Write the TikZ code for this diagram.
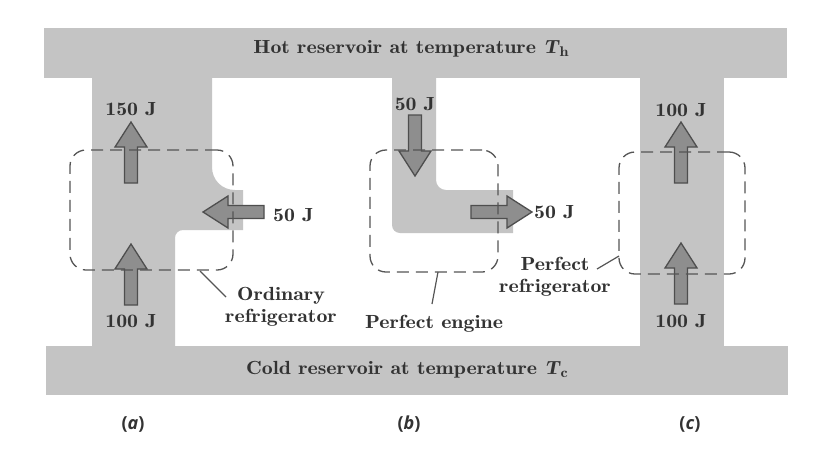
\documentclass[tikz,border=0pt]{standalone}
\usepackage{fontspec}
\setmainfont{lmromandemi10-regular.otf}[FakeStretch=1.15, ItalicFont=lmromandemi10-oblique.otf, BoldFont=lmroman10-bold.otf]
\newfontfamily\labfont{Open Sans}
\definecolor{resfill}{HTML}{C4C4C4}
\definecolor{arrfill}{HTML}{8E8E8E}
\definecolor{arrline}{HTML}{4E4E4E}
\definecolor{txt}{HTML}{333333}
\definecolor{dashc}{HTML}{555555}
\newcommand{\Tsub}[1]{\textit{T}\raisebox{-0.4ex}{\fontsize{14}{14}\selectfont #1}}
\tikzset{
  res/.style={fill=resfill},
  arrowst/.style={fill=arrfill, draw=arrline, line width=1.3pt, line join=miter},
  fatarrow/.pic={\path[arrowst] (0,-6.5) -- (36,-6.5) -- (36,-16) -- (61,0) -- (36,16) -- (36,6.5) -- (0,6.5) -- cycle;},
  lab/.style={text=txt, font=\fontsize{19}{21.5}\selectfont, anchor=base, inner sep=0pt},
  sublab/.style={text=txt, font=\labfont\bfseries\fontsize{18}{20}\selectfont, anchor=base, inner sep=0pt},
  dashbox/.style={draw=dashc, line width=1.3pt, dash pattern=on 12pt off 7pt, rounded corners=16pt},
  pointer/.style={draw=dashc, line width=1.2pt}
}
\begin{document}
\begin{tikzpicture}[x=1pt,y=-1pt]
\path[fill=white, use as bounding box] (0,0) rectangle (819,448);
% reservoirs
\fill[res] (44,28) rectangle (787,78);
\fill[res] (46,346) rectangle (788,395);
% column (a)
\fill[res] (92,77) -- (212,77) -- (212,167) .. controls (212,180) and (222,190) .. (235,190) -- (243,190) -- (243,230) -- (183,230) .. controls (178.5,230) and (175,233.5) .. (175,238) -- (175,347) -- (92,347) -- cycle;
% column (b)
\fill[res] (392,77) -- (436,77) -- (436,180) .. controls (436,185.5) and (440.5,190) .. (446,190) -- (513,190) -- (513,233) -- (400,233) .. controls (395.6,233) and (392,229.4) .. (392,225) -- cycle;
% column (c)
\fill[res] (640,77) rectangle (724,347);
% arrows
\pic[rotate=90] (aup) at (131,183) {fatarrow};
\pic[rotate=90] (alow) at (131,305) {fatarrow};
\pic[rotate=180] (aleft) at (264,212) {fatarrow};
\pic[rotate=-90] (bdown) at (415,115) {fatarrow};
\pic (bright) at (471,212) {fatarrow};
\pic[rotate=90] (cup) at (681,183) {fatarrow};
\pic[rotate=90] (clow) at (681,304) {fatarrow};
% dashed boxes
\node[dashbox, minimum width=163pt, minimum height=120pt, inner sep=0pt] (boxa) at (151.5,210) {};
\node[dashbox, minimum width=128pt, minimum height=122pt, inner sep=0pt] (boxb) at (434,211) {};
\node[dashbox, minimum width=126pt, minimum height=122pt, inner sep=0pt] (boxc) at (682,213) {};
% texts
\node[lab] (hot) at (411,53) {Hot reservoir at temperature \Tsub{h}};
\node[lab] (cold) at (407,374) {Cold reservoir at temperature \Tsub{c}};
\node[lab] (a150) at (131,115) {150 J};
\node[lab] (a100) at (131,327) {100 J};
\node[lab, anchor=base west] (a50) at (273,221) {50 J};
\node[lab] (b50t) at (415,110) {50 J};
\node[lab, anchor=base west] (b50r) at (534,218) {50 J};
\node[lab] (c100t) at (681,116) {100 J};
\node[lab] (c100b) at (681,327) {100 J};
\node[lab, align=center] (ord) at (281,322) {Ordinary\\refrigerator};
\node[lab] (peng) at (434,328) {Perfect engine};
\node[lab, align=center] (pref) at (555,292) {Perfect\\refrigerator};
% pointers
\coordinate (pa) at (200,271);
\coordinate (pae) at (226,297);
\coordinate (pb) at (438,272);
\coordinate (pbe) at (432,304);
\coordinate (pc) at (619,256);
\coordinate (pce) at (597,269);
\draw[pointer] (pa) -- (pae);
\draw[pointer] (pb) -- (pbe);
\draw[pointer] (pc) -- (pce);
% sub labels
\node[sublab] (la) at (133,429) {(\textit{a})};
\node[sublab] (lb) at (409,429) {(\textit{b})};
\node[sublab] (lc) at (690,429) {(\textit{c})};
\end{tikzpicture}
\end{document}
